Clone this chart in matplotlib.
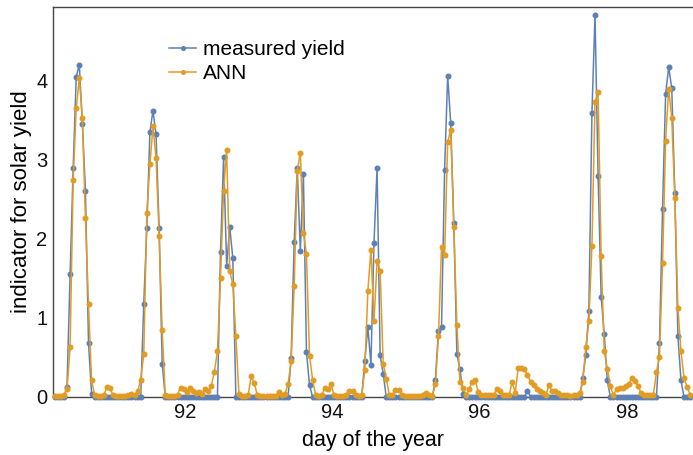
import numpy as np
import matplotlib
matplotlib.use("Agg")
import matplotlib.pyplot as plt

plt.rcParams["font.family"] = ["Liberation Sans", "DejaVu Sans"]

# hourly samples, first sample at day 90.19 + 1/24
start_day = 90.19
hours = np.arange(1, 209)

measured = [
    0, 0, 0, 0, 0.13, 1.55, 2.89, 4.05, 4.2, 3.45, 2.61, 0.68, 0.04, 0, 0, 0, 0, 0, 0, 0, 0, 0, 0, 0,
    0, 0, 0, 0, 0, 1.18, 2.14, 3.35, 3.62, 3.32, 2.14, 0.42, 0, 0, 0, 0, 0, 0, 0, 0, 0, 0, 0, 0,
    0, 0, 0, 0, 0, 0, 1.83, 3.03, 1.66, 2.15, 1.76, 0, 0, 0, 0, 0, 0, 0, 0, 0, 0, 0, 0, 0,
    0, 0, 0, 0, 0, 0.49, 1.96, 2.89, 1.84, 2.82, 0.57, 0.15, 0, 0, 0, 0, 0, 0, 0, 0, 0, 0, 0, 0,
    0, 0, 0, 0, 0, 0.46, 0.88, 0.41, 1.95, 2.89, 0.53, 0.29, 0, 0, 0, 0, 0, 0, 0, 0, 0, 0, 0, 0,
    0, 0, 0, 0, 0.22, 0.84, 0.89, 2.87, 4.06, 3.46, 2.2, 0.54, 0.35, 0.04, 0, 0, 0, 0, 0, 0, 0, 0, 0, 0,
    0, 0, 0, 0, 0, 0, 0, 0, 0, 0, 0.08, 0, 0, 0, 0, 0, 0, 0, 0, 0, 0, 0, 0, 0,
    0, 0, 0, 0, 0.24, 0.53, 1.09, 3.59, 4.83, 2.79, 1.27, 0.8, 0.21, 0, 0, 0, 0, 0, 0, 0, 0, 0, 0, 0,
    0, 0, 0, 0, 0, 0.68, 2.38, 3.83, 4.17, 3.9, 2.58, 0.77, 0.21, 0, 0, 0,
]

ann = [
    0.01, 0.01, 0.01, 0.02, 0.1, 0.63, 2.74, 3.65, 4.03, 3.53, 2.26, 1.17, 0.21, 0.02, 0.01, 0.01, 0.02, 0.13, 0.11, 0.02, 0.01, 0.01, 0.01, 0.01,
    0.02, 0.04, 0.03, 0.07, 0.22, 0.54, 2.33, 2.94, 3.42, 3.02, 2.04, 0.85, 0.02, 0.01, 0.01, 0.01, 0.03, 0.12, 0.1, 0.06, 0.11, 0.07, 0.05, 0.06,
    0.04, 0.1, 0.07, 0.14, 0.32, 0.58, 1.51, 2.6, 3.12, 1.59, 1.43, 0.77, 0.04, 0.01, 0.01, 0.02, 0.26, 0.18, 0.02, 0.01, 0.01, 0.01, 0.01, 0.01,
    0.01, 0.06, 0.02, 0.04, 0.16, 0.45, 1.4, 2.86, 3.09, 2.07, 1.81, 0.52, 0.22, 0.02, 0.01, 0.02, 0.12, 0.1, 0.16, 0.02, 0.01, 0.01, 0.01, 0.03,
    0.07, 0.08, 0.02, 0.01, 0.02, 0.34, 1.34, 1.86, 0.96, 1.72, 1.59, 0.42, 0.23, 0.03, 0.02, 0.09, 0.09, 0.02, 0.01, 0.01, 0.01, 0.01, 0.01, 0.01,
    0.02, 0.05, 0.02, 0.01, 0.16, 0.77, 1.9, 1.79, 3.22, 3.38, 2.15, 0.91, 0.19, 0.12, 0.02, 0.1, 0.19, 0.21, 0.06, 0.02, 0.02, 0.02, 0.02, 0.03,
    0.1, 0.08, 0.03, 0.02, 0.02, 0.19, 0.05, 0.37, 0.37, 0.35, 0.28, 0.19, 0.15, 0.1, 0.07, 0.05, 0.03, 0.15, 0.07, 0.07, 0.05, 0.03, 0.02, 0.02,
    0.01, 0.02, 0.02, 0.05, 0.19, 0.63, 0.96, 1.91, 3.73, 3.85, 1.78, 0.58, 0.36, 0.14, 0.02, 0.1, 0.12, 0.12, 0.14, 0.16, 0.24, 0.2, 0.14, 0.05,
    0.02, 0.02, 0.02, 0.03, 0.31, 0.51, 1.69, 3.24, 3.89, 3.53, 2.52, 1.13, 0.58, 0.24, 0.13, 0.03,
]

day_ticks = [92, 94, 96, 98]
y_ticks = [0, 1, 2, 3, 4]

BLUE = "#5e81b5"
ORANGE = "#e19c24"

days = start_day + hours / 24.0

fig = plt.figure(figsize=(6.93, 4.55), dpi=100)
ax = fig.add_axes([53 / 693, 58 / 455, 640 / 693, 390 / 455])

ax.plot(days, measured, color=BLUE, lw=1.1, marker="o", ms=3.3, label="measured yield", clip_on=False, zorder=3)
ax.plot(days, ann, color=ORANGE, lw=1.1, marker="o", ms=3.3, label="ANN", clip_on=False, zorder=4)

ax.set_xlim(90.208, 98.895)
ax.set_ylim(0, 4.93)
ax.set_xticks(day_ticks)
ax.set_yticks(y_ticks)
ax.tick_params(length=0, labelsize=14.5, pad=4, colors="#111111")

for side in ["left", "bottom", "top"]:
    ax.spines[side].set_color("#444444")
    ax.spines[side].set_linewidth(1.0)
ax.spines["right"].set_visible(False)

ax.set_xlabel("day of the year", fontsize=15.5, labelpad=6)
ax.set_ylabel("indicator for solar yield", fontsize=16, labelpad=3)

ax.legend(loc="upper left", bbox_to_anchor=(0.152, 0.963), frameon=False, fontsize=15,
          handlelength=1.3, handletextpad=0.35, labelspacing=0.25, markerscale=0.8)

fig.savefig("out.png", dpi=100)
